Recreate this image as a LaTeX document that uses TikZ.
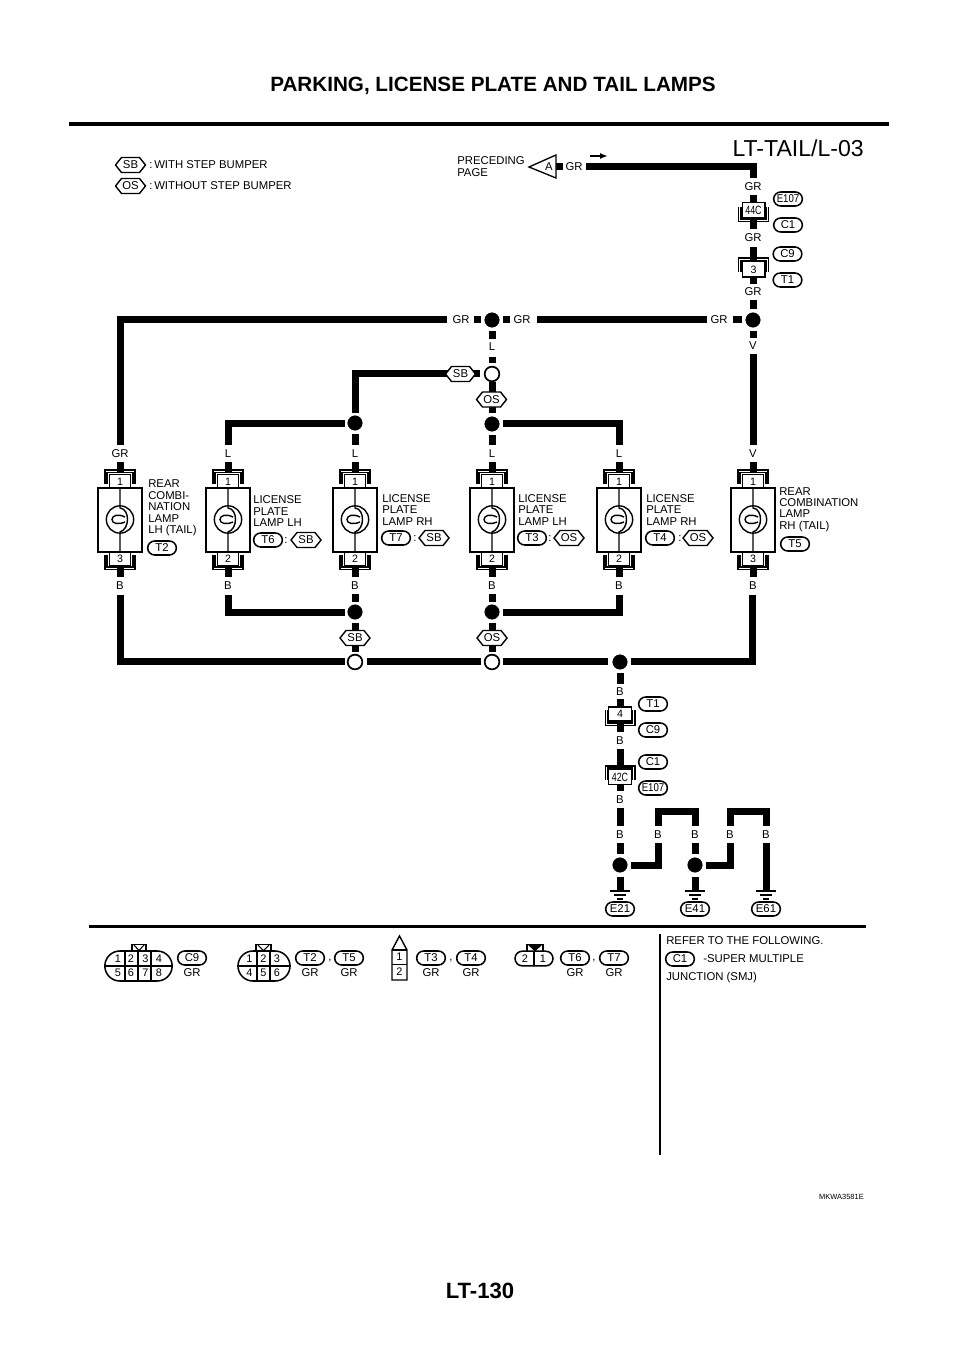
\documentclass[tikz,border=0pt]{standalone}
\usepackage{fontspec}
\setmainfont{Liberation Sans}
\usetikzlibrary{shapes.misc,arrows.meta}
\newcommand{\cnd}[1]{\scalebox{.85}[1]{#1}}
\newcommand{\cndb}[1]{\scalebox{.74}[1]{\fontsize{9pt}{10pt}\selectfont #1}}
\tikzset{
  wire/.style={line width=5.25pt,line cap=butt,line join=miter},
  thin line/.style={line width=1.05pt},
  brk/.style={line width=.8pt},
  lbl/.style={inner sep=0pt,font=\fontsize{8.5pt}{10pt}\selectfont},
  lft/.style={lbl,anchor=west},
  dotn/.style={circle,fill=black,draw=black,line width=.2pt,minimum size=11pt,inner sep=0pt},
  opn/.style={circle,fill=white,draw=black,line width=1.3pt,minimum size=11pt,inner sep=0pt},
  hexline/.style={draw=black,fill=white,line width=1.05pt,line join=miter},
  ovl/.style={rounded rectangle,minimum width=21.5pt,minimum height=10.5pt,inner sep=0pt,draw,fill=white,line width=1.15pt,font=\fontsize{8.5pt}{10pt}\selectfont},
  pinb/.style={rectangle,draw,fill=white,line width=1pt,inner sep=0pt,font=\fontsize{8pt}{9pt}\selectfont},
  bodyb/.style={rectangle,draw,fill=white,line width=1.05pt,inner sep=0pt,minimum width=33pt,minimum height=48pt},
  bulb/.style={circle,draw,line width=1.05pt,inner sep=0pt,minimum size=20.5pt},
  gline/.style={line width=1pt},
  conn/.style={rounded rectangle,draw,fill=white,line width=1.15pt,inner sep=0pt},
  num/.style={inner sep=0pt,font=\fontsize{8.2pt}{10pt}\selectfont},
}
% hexagonal option label: name, x, y, text
\newcommand{\hx}[4]{%
  \draw[hexline] (#2-15,#3) -- (#2-9,#3-7.5) -- (#2+9,#3-7.5) -- (#2+15,#3) -- (#2+9,#3+7.5) -- (#2-9,#3+7.5) -- cycle;
  \node[lbl] (#1) at (#2,#3) {#4};
}
% lamp: name, x, top pin, bottom pin
\newcommand{\lampsym}[4]{%
  \coordinate (#1a) at (#2,462); \coordinate (#1b) at (#2,577);
  \draw[wire] (#1a) -- (#2,472); \draw[wire] (#2,567) -- (#1b);
  \draw[brk] (#2-15,484) -- (#2-15,470) -- (#2+15,470) -- (#2+15,484);
  \draw[brk] (#2-13,484) -- (#2-13,472.5) -- (#2+13,472.5) -- (#2+13,484);
  \draw[brk] (#2-15,555) -- (#2-15,569.5) -- (#2+15,569.5) -- (#2+15,555);
  \draw[brk] (#2-13,555) -- (#2-13,567) -- (#2+13,567) -- (#2+13,555);
  \node[pinb,minimum width=16pt,minimum height=10.5pt] (#1p) at (#2,481.5) {#3};
  \node[pinb,minimum width=16pt,minimum height=10.5pt] (#1q) at (#2,558.5) {#4};
  \node[bodyb] (#1body) at (#2,520) {};
  \node[bulb] (#1bulb) at (#2,519.5) {};
  \draw[thin line] (#1body.north) -- (#2,508) .. controls (#2+10,509) and (#2+10,529) .. (#2,532) -- (#1body.south);
  \draw[thin line] (#2+5,517) .. controls (#2-2,513.5) and (#2-8,515.5) .. (#2-8,519.5)
     .. controls (#2-8,523.5) and (#2-2,525) .. (#2+5,522);
}
\newcommand{\gnd}[2]{%
  \draw[gline] (#2-10,891) -- (#2+10,891);
  \draw[gline] (#2-6,895) -- (#2+6,895);
  \draw[gline] (#2-3,899) -- (#2+3,899);
}
\begin{document}
\begin{tikzpicture}[x=.75pt,y=-.75pt]
\useasboundingbox (0,0) rectangle (960,1358);
\fill[white] (0,0) rectangle (960,1358);
% heads
\node[inner sep=0pt,font=\fontsize{15.5pt}{18pt}\selectfont\bfseries] (title) at (493,86) {PARKING, LICENSE PLATE AND TAIL LAMPS};
\node[inner sep=0pt,font=\fontsize{16.6pt}{18pt}\selectfont\bfseries] (page) at (480,1291) {LT-130};
\draw[line width=2.3pt] (69,124) -- (889,124);
\draw[line width=1.6pt] (89,926.5) -- (866,926.5);
\draw[line width=1.4pt] (660,934) -- (660,1155);
\node[inner sep=0pt,anchor=east,font=\fontsize{17.3pt}{20pt}\selectfont] (code) at (864,148) {LT-TAIL/L-03};
\node[inner sep=0pt,anchor=east,font=\fontsize{5.6pt}{7pt}\selectfont] (mk) at (864,1197) {MKWA3581E};
% legend
\hx{legSB}{130.5}{165}{SB}
\hx{legOS}{130.5}{186}{OS}
\node[lft] (legSBt) at (149,164.5) {:\,WITH STEP BUMPER};
\node[lft] (legOSt) at (149,186) {:\,WITHOUT STEP BUMPER};
% preceding page
\node[lft,align=left] (prec) at (457,167) {PRECEDING\\[-1.1pt]PAGE};
\coordinate (Atip) at (529,167); \coordinate (Abt) at (556,155); \coordinate (Abb) at (556,178);
\coordinate (Astub) at (563,167);
\draw[wire] (Abt |- Atip) -- (Astub);
\draw[line width=1pt,fill=white] (Atip) -- (Abt) -- (Abb) -- cycle;
\node[lbl] (Alet) at (549,167) {A};
\node[lbl] (grA) at (574,167) {GR};
\coordinate (arrA) at (590,156); \coordinate (arrB) at (608,156);
\draw[line width=1.4pt,-{Latex[length=6pt,width=4.5pt]}] (arrA) -- (arrB);
% main GR feed
\coordinate (t1) at (586,167); \coordinate (t2) at (753,167); \coordinate (t3) at (753,178);
\draw[wire] (t1) -- (t2) -- (t3);
\node[lbl] (gr1) at (753,187) {GR};
\coordinate (s1) at (753,195); \coordinate (s2) at (753,229);
\draw[wire] (s1) -- (s2);
\draw[brk] (738.5,207) -- (738.5,221.5) -- (768.5,221.5) -- (768.5,207);
\draw[brk] (741,207) -- (741,219.5) -- (766,219.5) -- (766,207);
\node[pinb,minimum width=17pt,minimum height=11.5pt] (j44) at (753.5,210.5) {\cndb{44C}};
\node[lbl] (gr2) at (753,238) {GR};
\coordinate (s3) at (753,247); \coordinate (s4) at (753,284);
\draw[wire] (s3) -- (s4);
\draw[brk] (738.5,272) -- (738.5,258) -- (768.5,258) -- (768.5,272);
\draw[brk] (741,272) -- (741,260.5) -- (766,260.5) -- (766,272);
\node[pinb,minimum width=17pt,minimum height=11.5pt] (j3) at (753.5,269.5) {3};
\node[lbl] (gr3) at (753,292) {GR};
\node[ovl] (oE107) at (788,199) {\cnd{E107}};
\node[ovl] (oC1) at (788,225) {C1};
\node[ovl] (oC9) at (787.5,254) {C9};
\node[ovl] (oT1) at (787.5,280) {T1};
% upper junctions
\node[dotn] (dR) at (753,320) {};
\node[dotn] (dM) at (492,320) {};
\coordinate (s5) at (753,300); \coordinate (s6) at (753,331); \coordinate (s7) at (753,338);
\coordinate (s5b) at (753,309);
\draw[wire] (s5) -- (s5b); \draw[wire] (s6) -- (s7);
\node[lbl] (vR) at (753,346) {V};
\coordinate (v1) at (753,354); \coordinate (v2) at (753,445);
\draw[wire] (v1) -- (v2);
\node[lbl] (vR2) at (753,453.5) {V};
\node[lbl] (grR) at (719,320) {GR};
\coordinate (h1) at (733,320); \coordinate (h1b) at (742,320); \coordinate (h2) at (707,320); \coordinate (h3) at (537,320);
\coordinate (h4) at (510,320); \coordinate (h5) at (503,320); \coordinate (h6) at (481,320);
\coordinate (h7) at (474,320); \coordinate (h8) at (447,320); \coordinate (h9) at (120,320);
\coordinate (h10) at (120,445);
\draw[wire] (h1) -- (h1b); \draw[wire] (h2) -- (h3);
\node[lbl] (grMr) at (522,320) {GR};
\draw[wire] (h4) -- (h5); \draw[wire] (h6) -- (h7);
\node[lbl] (grMl) at (461,320) {GR};
\draw[wire] (h8) -- (h9) -- (h10);
\node[lbl] (grL) at (120,454) {GR};
% L branch
\coordinate (m1) at (492,331); \coordinate (m2) at (492,339);
\draw[wire] (m1) -- (m2);
\node[lbl] (lM) at (492,347) {L};
\coordinate (m3) at (492,357); \coordinate (m3b) at (492,363);
\node[opn] (oM) at (492,374) {};
\draw[wire] (m3) -- (m3b);
\node[dotn] (dM2) at (492,424) {};
\coordinate (m4) at (492,382); \coordinate (m5) at (492,413);
\draw[wire] (m4) -- (m5);
\hx{hOS1}{491.5}{399.5}{OS}
\node[dotn] (dL2) at (355,423) {};
\coordinate (c0) at (480,374); \coordinate (c1) at (355,374); \coordinate (c2) at (355,413);
\draw[wire] (c0) -- (c1) -- (c2);
\hx{hSB1}{460.5}{374}{SB}
\coordinate (c3) at (345,423); \coordinate (c4) at (228,423); \coordinate (c5) at (228,445);
\draw[wire] (c3) -- (c4) -- (c5);
\coordinate (c6) at (503,423); \coordinate (c7) at (619,423); \coordinate (c8) at (619,445);
\draw[wire] (c6) -- (c7) -- (c8);
\coordinate (c9) at (355,434); \coordinate (c10) at (355,445);
\coordinate (c12) at (492,435); \coordinate (c11) at (492,445);
\draw[wire] (c9) -- (c10);
\draw[wire] (c12) -- (c11);
\node[lbl] (lA) at (228,454) {L};
\node[lbl] (lB) at (355,454) {L};
\node[lbl] (lC) at (492,454) {L};
\node[lbl] (lD) at (619,454) {L};
% lamps
\lampsym{LA}{120}{1}{3}
\lampsym{LB}{228}{1}{2}
\lampsym{LC}{355}{1}{2}
\lampsym{LD}{492}{1}{2}
\lampsym{LE}{619}{1}{2}
\lampsym{LF}{753}{1}{3}
% lamp captions
\node[lft,align=left] (capA) at (148,508) {REAR\\[-1.4pt]COMBI-\\[-1.4pt]NATION\\[-1.4pt]LAMP\\[-1.4pt]LH (TAIL)};
\node[ovl] (oT2) at (162,548) {T2};
\node[lft,align=left] (capB) at (253,511.5) {LICENSE\\[-1.4pt]PLATE\\[-1.4pt]LAMP LH};
\node[ovl] (oT6) at (268,540) {T6};
\node[lbl] (coB) at (286,541) {:};
\hx{hSB2}{306}{540}{SB}
\node[lft,align=left] (capC) at (382,510) {LICENSE\\[-1.4pt]PLATE\\[-1.4pt]LAMP RH};
\node[ovl] (oT7) at (396,538) {T7};
\node[lbl] (coC) at (415,539) {:};
\hx{hSB3}{434}{538}{SB}
\node[lft,align=left] (capD) at (518,510) {LICENSE\\[-1.4pt]PLATE\\[-1.4pt]LAMP LH};
\node[ovl] (oT3) at (532,538) {T3};
\node[lbl] (coD) at (550,539) {:};
\hx{hOS2}{569}{538}{OS}
\node[lft,align=left] (capE) at (646,510) {LICENSE\\[-1.4pt]PLATE\\[-1.4pt]LAMP RH};
\node[ovl] (oT4) at (660,538) {T4};
\node[lbl] (coE) at (680,539) {:};
\hx{hOS3}{698}{538}{OS}
\node[lft,align=left] (capF) at (779,509.5) {REAR\\[-1.4pt]COMBINATION\\[-1.4pt]LAMP\\[-1.4pt]RH (TAIL)};
\node[ovl] (oT5) at (795,544) {T5};
% B labels
\node[lbl] (bA) at (120,586) {B};
\node[lbl] (bB) at (228,586) {B};
\node[lbl] (bC) at (355,586) {B};
\node[lbl] (bD) at (492,586) {B};
\node[lbl] (bE) at (619,586) {B};
\node[lbl] (bF) at (753,586) {B};
% lower junctions
\node[dotn] (dC) at (355,612) {};
\node[dotn] (dD) at (492,612) {};
\node[opn] (oC) at (355,662) {};
\node[opn] (oD) at (492,662) {};
\node[dotn] (dG) at (620,662) {};
\coordinate (u1) at (355,594); \coordinate (u2) at (355,602);
\coordinate (u3) at (492,594); \coordinate (u4) at (492,602);
\draw[wire] (u1) -- (u2); \draw[wire] (u3) -- (u4);
\coordinate (u5) at (345,612); \coordinate (u6) at (228,612); \coordinate (u7) at (228,595);
\draw[wire] (u5) -- (u6) -- (u7);
\coordinate (u8) at (503,612); \coordinate (u9) at (619,612); \coordinate (u10) at (619,595);
\draw[wire] (u8) -- (u9) -- (u10);
\coordinate (u11) at (355,623); \coordinate (u12) at (492,623);
\coordinate (u13) at (355,652); \coordinate (u14) at (492,652);
\draw[wire] (u11) -- (u13); \draw[wire] (u12) -- (u14);
\hx{hSB4}{355}{638}{SB}
\hx{hOS4}{492}{638}{OS}
\coordinate (b1) at (120,595); \coordinate (b2) at (120,661.5); \coordinate (b3) at (345,661.5);
\draw[wire] (b1) -- (b2) -- (b3);
\coordinate (b4) at (367,661.5); \coordinate (b5) at (481,661.5);
\draw[wire] (b4) -- (b5);
\coordinate (b6) at (503,661.5); \coordinate (b7) at (608,661.5);
\draw[wire] (b6) -- (b7);
\coordinate (b8) at (631,661.5); \coordinate (b9) at (752.5,661.5); \coordinate (b10) at (752.5,595);
\draw[wire] (b8) -- (b9) -- (b10);
% to ground
\coordinate (g1) at (620,673); \coordinate (g2) at (620,684);
\node[lbl] (b692) at (620,692) {B};
\coordinate (g3) at (620,699); \coordinate (g4) at (620,732);
\draw[wire] (g3) -- (g4);
\draw[wire] (g1) -- (g2);
\draw[brk] (605.5,710) -- (605.5,725.5) -- (635,725.5) -- (635,710);
\draw[brk] (608,710) -- (608,723) -- (632.5,723) -- (632.5,710);
\node[pinb,minimum width=17pt,minimum height=10.5pt] (j4) at (620,714) {4};
\node[lbl] (b741) at (620,741) {B};
\coordinate (g5) at (620,749); \coordinate (g6) at (620,791);
\draw[wire] (g5) -- (g6);
\draw[brk] (605.5,780) -- (605.5,766) -- (635,766) -- (635,780);
\draw[brk] (608,780) -- (608,768) -- (632.5,768) -- (632.5,780);
\node[pinb,minimum width=17pt,minimum height=11.5pt] (j42) at (620,777) {\cndb{42C}};
\node[ovl] (oT1b) at (653,704) {T1};
\node[ovl] (oC9b) at (653,730) {C9};
\node[ovl] (oC1b) at (653,762) {C1};
\node[ovl] (oE107b) at (653,788) {\cnd{E107}};
\node[lbl] (b800) at (620,800) {B};
\coordinate (k1) at (620,808); \coordinate (k2) at (620,826);
\draw[wire] (k1) -- (k2);
\node[lbl] (bk1) at (620,835) {B};
\node[lbl] (bk2) at (658,835) {B};
\node[lbl] (bk3) at (695,835) {B};
\node[lbl] (bk4) at (730,835) {B};
\node[lbl] (bk5) at (766,835) {B};
\node[dotn] (dE21) at (620,865) {};
\node[dotn] (dE41) at (695,865) {};
\coordinate (k3) at (620,843); \coordinate (k3b) at (620,854);
\draw[wire] (k3) -- (k3b);
\coordinate (k4) at (695,843); \coordinate (k4b) at (695,854);
\draw[wire] (k4) -- (k4b);
\coordinate (k5) at (631,865.5); \coordinate (k6) at (658,865.5); \coordinate (k7) at (658,843);
\draw[wire] (k5) -- (k6) -- (k7);
\coordinate (k8) at (658,826); \coordinate (k9) at (658,811.5); \coordinate (k10) at (695,811.5); \coordinate (k11) at (695,826);
\draw[wire] (k8) -- (k9) -- (k10) -- (k11);
\coordinate (k12) at (706,865.5); \coordinate (k13) at (730,865.5); \coordinate (k14) at (730,843);
\draw[wire] (k12) -- (k13) -- (k14);
\coordinate (k15) at (730,826); \coordinate (k16) at (730,811.5); \coordinate (k17) at (766,811.5); \coordinate (k18) at (766,826);
\draw[wire] (k15) -- (k16) -- (k17) -- (k18);
\coordinate (k19) at (766,843); \coordinate (k20) at (766,891);
\draw[wire] (k19) -- (k20);
\coordinate (k21) at (620,891); \coordinate (k22) at (695,891);
\coordinate (k23) at (620,877); \coordinate (k24) at (695,877);
\draw[wire] (k23) -- (k21);
\draw[wire] (k24) -- (k22);
\gnd{E21}{620}\gnd{E41}{695}\gnd{E61}{766}
\node[ovl] (oE21) at (620,909) {E21};
\node[ovl] (oE41) at (695,909) {E41};
\node[ovl] (oE61) at (766,909) {E61};
% connector faces
\draw[line width=1.05pt] (132,951) -- (132,944.5) -- (146,944.5) -- (146,951);
\draw[line width=.8pt] (134,945) -- (139,950.5) -- (144,945);
\node[conn,minimum width=50.5pt,minimum height=22.5pt] (fC9) at (138.5,966) {};
\draw[line width=.9pt] (125,951) -- (125,981) (138,951) -- (138,981) (151,951) -- (151,981) (fC9.west) -- (fC9.east);
\foreach \n/\x/\y in {1/118/958.5,2/131/958.5,3/145.5/958.5,4/159/958.5,5/118/973,6/131/973,7/145.5/973,8/159/973}{\node[num] (nC\n) at (\x,\y) {\n};}
\node[ovl] (fC9l) at (192,958) {C9};
\node[lbl] (fC9g) at (192,973) {GR};
\draw[line width=1.05pt] (256,951) -- (256,944.5) -- (271,944.5) -- (271,951);
\draw[line width=.8pt] (258,945) -- (263.5,950.5) -- (269,945);
\node[conn,minimum width=39pt,minimum height=22.5pt] (fT2) at (264,966) {};
\draw[line width=.9pt] (257,951) -- (257,981) (270,951) -- (270,981) (fT2.west) -- (fT2.east);
\foreach \n/\x/\y in {1/249.5/958.5,2/263.5/958.5,3/277/958.5,4/249.5/973,5/263.5/973,6/277/973}{\node[num] (nT\n) at (\x,\y) {\n};}
\node[ovl] (fT2l) at (310,958) {T2};
\node[lbl] (fT2c) at (330,961) {,};
\node[ovl] (fT5l) at (349,958) {T5};
\node[lbl] (fT2g) at (310,973) {GR};
\node[lbl] (fT5g) at (349,973) {GR};
\coordinate (pTip) at (399.5,936);
\draw[line width=1.05pt,fill=white] (392,950) -- (pTip) -- (407,950) -- (407,980) -- (392,980) -- cycle;
\draw[line width=1.05pt] (392,950) -- (407,950) (392,964.5) -- (407,964.5);
\node[num] (p1) at (399.5,957) {1};
\node[num] (p2) at (399.5,972) {2};
\node[ovl] (fT3l) at (431,958) {T3};
\node[lbl] (fT3c) at (451,961) {,};
\node[ovl] (fT4l) at (471,958) {T4};
\node[lbl] (fT3g) at (431,973) {GR};
\node[lbl] (fT4g) at (471,973) {GR};
\draw[line width=1.05pt] (527,951) -- (527,944.5) -- (543,944.5) -- (543,951);
\fill (527,944) -- (543,944) -- (535,951.5) -- cycle;
\node[conn,minimum width=28.5pt,minimum height=11pt] (fT6) at (534,958.5) {};
\draw[line width=.9pt] (534,951) -- (534,966);
\node[num] (q2) at (525,958.5) {2};
\node[num] (q1) at (543,958.5) {1};
\node[ovl] (fT6l) at (575,958) {T6};
\node[lbl] (fT6c) at (594,961) {,};
\node[ovl] (fT7l) at (614,958) {T7};
\node[lbl] (fT6g) at (575,973) {GR};
\node[lbl] (fT7g) at (614,973) {GR};
\node[lft] (ref1) at (666,941) {REFER TO THE FOLLOWING.};
\node[ovl] (refC1) at (680,959) {C1};
\node[lft] (ref2) at (703,959) {-SUPER MULTIPLE};
\node[lft] (ref3) at (666,978) {JUNCTION (SMJ)};
\end{tikzpicture}
\end{document}
